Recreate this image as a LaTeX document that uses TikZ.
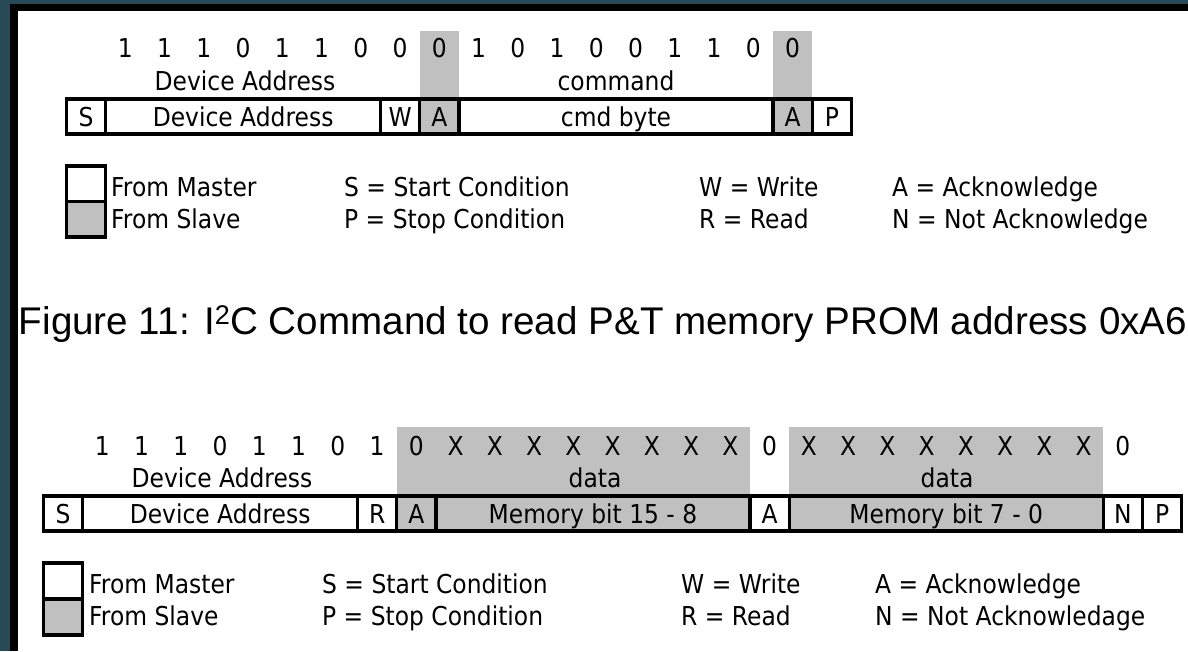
\documentclass[tikz,border=0pt]{standalone}
\usepackage{fontspec}
\setmainfont{DejaVu Sans}[FakeStretch=0.9]
\newfontfamily\captionfont{Liberation Sans}
\usetikzlibrary{positioning}

\definecolor{framebg}{RGB}{40,73,88}
\definecolor{slavegray}{RGB}{192,192,192}
\newcommand{\bitw}{39.25pt} % width of one bit slot

\begin{document}
\begin{tikzpicture}[x=1pt,y=-1pt,font=\fontsize{26}{31}\selectfont,
  cell/.style={draw,line width=3.2pt,minimum width=\bitw,minimum height=35pt,
    inner sep=0pt,outer sep=0pt,text height=19pt,text depth=0pt},
  slave/.style={fill=slavegray},
  bitval/.style={anchor=base,inner sep=0pt},
  legtext/.style={anchor=base west,inner sep=0pt}]

\useasboundingbox (0,0) rectangle (1188,651);

% window frame
\fill[framebg] (0,0) rectangle (1188,651);
\fill[black] (10,4) rectangle (1188,651);
\fill[white] (18,11) rectangle (1188,651);

%%% write command (top)
\fill[slavegray] (419.75,31) rectangle (459,99); % ack from slave
\fill[slavegray] (773,31) rectangle (812.25,99);

\foreach \b [count=\i] in {1,1,1,0,1,1,0,0,0,1,0,1,0,0,1,1,0,0}
  \node[bitval] (wb\i) at ({66.5+39.25*(\i+0.5)},57) {\b};
\node[bitval] (wlabdev) at (245,90) {Device Address};
\node[bitval] (wlabcmd) at (616,90) {command};

\node[cell,anchor=north west] (ws) at (66.5,99) {S};
\node[cell,minimum width=7*\bitw,right=0pt of ws] (wdev) {Device Address};
\node[cell,right=0pt of wdev] (ww) {W};
\node[cell,slave,right=0pt of ww] (wack1) {A};
\node[cell,minimum width=8*\bitw,right=0pt of wack1] (wcmd) {cmd byte};
\node[cell,slave,right=0pt of wcmd] (wack2) {A};
\node[cell,right=0pt of wack2] (wstop) {P};

% legend
\node[cell,minimum height=35.5pt,anchor=north west] (wmaster) at (66.5,166) {};
\node[cell,slave,minimum height=35.5pt,below=0pt of wmaster] (wslave) {};
\node[legtext] (wlm) at (111,196) {From Master};
\node[legtext] (wls) at (111,228) {From Slave};
\node[legtext] (wlstart) at (344,196) {S = Start Condition};
\node[legtext] (wlstop) at (344,228) {P = Stop Condition};
\node[legtext] (wlw) at (699,196) {W = Write};
\node[legtext] (wlr) at (699,228) {R = Read};
\node[legtext] (wla) at (892,196) {A = Acknowledge};
\node[legtext] (wln) at (892,228) {N = Not Acknowledge};

% caption
\node[anchor=base,font=\captionfont\fontsize{38.6}{46}\selectfont] (fig) at (603,334)
  {Figure 11: I\textsuperscript{2}C Command to read P\&T memory PROM address 0xA6};

%%% read command (bottom)
\fill[slavegray] (396.75,427) rectangle (750,496); % data bytes from slave
\fill[slavegray] (789.25,427) rectangle (1103.25,496);

\foreach \b [count=\i] in {1,1,1,0,1,1,0,1,0,X,X,X,X,X,X,X,X,0,X,X,X,X,X,X,X,X,0}
  \node[bitval] (rb\i) at ({43.5+39.25*(\i+0.5)},455) {\b};
\node[bitval] (rlabdev) at (222,487) {Device Address};
\node[bitval] (rlabd1) at (595,487) {data};
\node[bitval] (rlabd2) at (947,487) {data};

\node[cell,anchor=north west] (rs) at (43.5,496) {S};
\node[cell,minimum width=7*\bitw,right=0pt of rs] (rdev) {Device Address};
\node[cell,right=0pt of rdev] (rr) {R};
\node[cell,slave,right=0pt of rr] (rack1) {A};
\node[cell,slave,minimum width=8*\bitw,right=0pt of rack1] (rmsb) {Memory bit 15 - 8};
\node[cell,right=0pt of rmsb] (rack2) {A};
\node[cell,slave,minimum width=8*\bitw,right=0pt of rack2] (rlsb) {Memory bit 7 - 0};
\node[cell,right=0pt of rlsb] (rnack) {N};
\node[cell,right=0pt of rnack] (rstop) {P};

% legend
\node[cell,minimum height=36pt,anchor=north west] (rmaster) at (43.5,563) {};
\node[cell,slave,minimum height=36pt,below=0pt of rmaster] (rslave) {};
\node[legtext] (rlm) at (89,593) {From Master};
\node[legtext] (rls) at (89,625) {From Slave};
\node[legtext] (rlstart) at (322,593) {S = Start Condition};
\node[legtext] (rlstop) at (322,625) {P = Stop Condition};
\node[legtext] (rlw) at (681,593) {W = Write};
\node[legtext] (rlr) at (681,625) {R = Read};
\node[legtext] (rla) at (875,593) {A = Acknowledge};
\node[legtext] (rln) at (875,625) {N = Not Acknowledage};

\end{tikzpicture}
\end{document}
